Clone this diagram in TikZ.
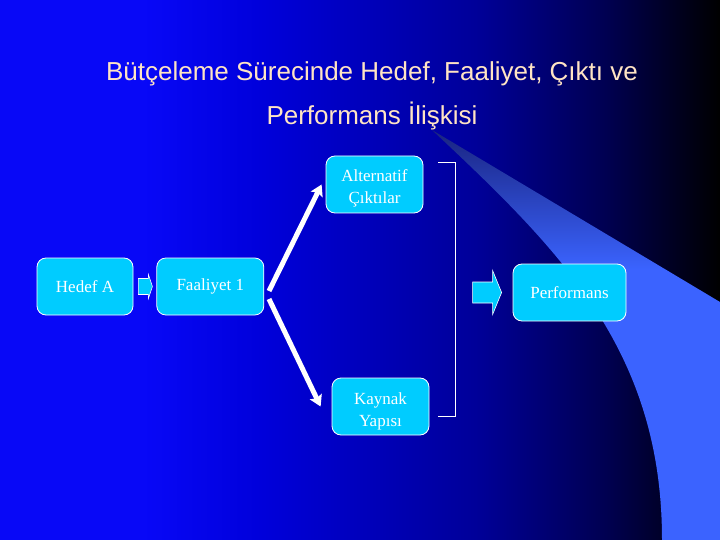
\documentclass[tikz,border=0pt]{standalone}
\usepackage{fontspec}
\setmainfont{Liberation Serif}
\newfontfamily\titlefont{Liberation Sans}
\usetikzlibrary{arrows.meta, positioning}

\definecolor{boxcyan}{RGB}{0,204,255}
\definecolor{titlepeach}{RGB}{255,228,196}
\pgfdeclarehorizontalshading{slidebg}{100bp}{rgb(0bp)=(0.03,0.03,0.97); rgb(35bp)=(0.03,0.03,0.97); rgb(43bp)=(0,0,0.86); rgb(58bp)=(0,0,0.6); rgb(67bp)=(0,0,0.32); rgb(75bp)=(0,0,0); rgb(100bp)=(0,0,0)}
\pgfdeclareverticalshading{swoosh}{100bp}{rgb(0bp)=(0.23,0.39,1); rgb(58bp)=(0.23,0.39,1); rgb(75bp)=(0.1,0.14,0.5); rgb(100bp)=(0.1,0.14,0.5)}

\begin{document}
\begin{tikzpicture}[x=1pt, y=-1pt, box/.style={rectangle, draw=white, line width=0.8pt, fill=boxcyan, rounded corners=9pt, text=white, font=\fontsize{17}{22}\selectfont, align=center, minimum height=57pt, inner sep=2pt}, twoline/.style={text height=41pt, text depth=2pt}, blockarrow/.style={draw=white, line width=0.6pt, fill=boxcyan}, forkline/.style={draw=white, line width=5pt, -{Stealth[length=11pt, width=13pt, inset=2pt]}}]
\useasboundingbox (0,0) rectangle (720,540);
% slide background
\shade[shading=slidebg] (0,0) rectangle (720,540);
\shade[shading=swoosh] (432,130) -- (720,302) -- (720,540) -- (662,540) .. controls (662,350) and (560,250) .. cycle;
\node[font=\titlefont\fontsize{26}{44}\selectfont, text=titlepeach, align=center] (title) at (372,96) {Bütçeleme Sürecinde Hedef, Faaliyet, Çıktı ve\\Performans İlişkisi};
% boxes
\node[box, minimum width=96pt] (hedef) at (85,286.5) {Hedef A};
\node[box, minimum width=107pt, right=23pt of hedef] (faal) {Faaliyet 1};
\node[box, twoline, minimum width=97pt] (alt) at (374.5,184.5) {Alternatif\\Çıktılar};
\node[box, twoline, minimum width=97pt] (kaynak) at (380.5,406.5) {Kaynak\\Yapısı};
\node[box, minimum width=113pt] (perf) at (569.5,292.5) {Performans};
% block arrows
\draw[blockarrow] ([xshift=5pt]hedef.east) ++(0,-8) -- ++(10,0) -- ++(0,-4) -- ++(4,12) -- ++(-4,12) -- ++(0,-4) -- ++(-10,0) -- cycle;
\draw[blockarrow] ([xshift=-40pt]perf.west) ++(0,-10.5) -- ++(20,0) -- ++(0,-11.5) -- ++(9,22) -- ++(-9,22) -- ++(0,-11.5) -- ++(-20,0) -- cycle;
% bracket
\draw[white, line width=1pt] (438,163) -| (455,416) -- (438,416);
% fork
\coordinate (forkup) at (269,291);
\coordinate (forkdown) at (269,299);
\draw[forkline] (forkup) -- ([xshift=-4pt]alt.west);
\draw[forkline] (forkdown) -- ([xshift=-11pt]kaynak.west);
\end{tikzpicture}
\end{document}
